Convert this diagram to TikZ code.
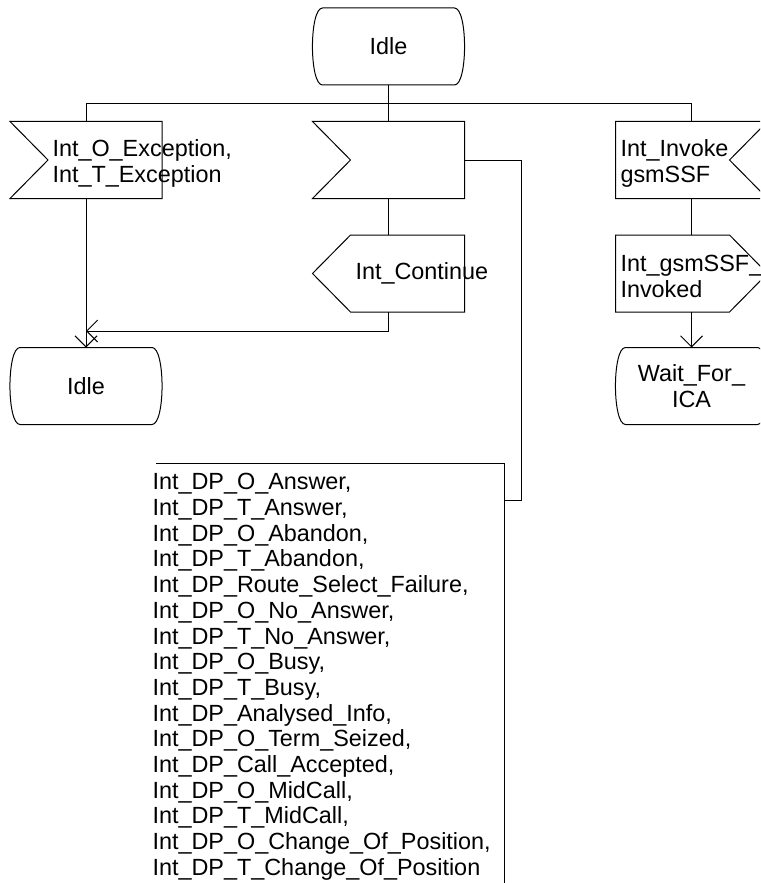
\documentclass[tikz,border=0pt]{standalone}
\usepackage{fontspec}
\setmainfont{Liberation Sans}
\usetikzlibrary{arrows.meta,positioning}

\begin{document}
\begin{tikzpicture}[
    x=0.5pt, y=-0.5pt,
    line width=0.5pt,
    >={Straight Barb[length=5.5pt,width=11pt]},
    font=\fontsize{11.7}{12.85}\selectfont,
    sdl/.style={rectangle, minimum width=75.5pt, minimum height=38pt, inner sep=0pt},
    statebox/.style={sdl, align=center, append after command={\pgfextra{
        \draw ([xshift=5pt]\tikzlastnode.north west) -- ([xshift=-5pt]\tikzlastnode.north east)
          .. controls ([xshift=1.7pt]\tikzlastnode.north east) and ([xshift=1.7pt]\tikzlastnode.south east) .. ([xshift=-5pt]\tikzlastnode.south east)
          -- ([xshift=5pt]\tikzlastnode.south west)
          .. controls ([xshift=-1.7pt]\tikzlastnode.south west) and ([xshift=-1.7pt]\tikzlastnode.north west) .. cycle;}}},
    inleft/.style={sdl, append after command={\pgfextra{
        \draw (\tikzlastnode.north west) -- (\tikzlastnode.north east) -- (\tikzlastnode.south east)
          -- (\tikzlastnode.south west) -- ([xshift=19pt]\tikzlastnode.west) -- cycle;}}},
    inright/.style={sdl, append after command={\pgfextra{
        \draw (\tikzlastnode.north west) -- (\tikzlastnode.north east) -- ([xshift=-19pt]\tikzlastnode.east)
          -- (\tikzlastnode.south east) -- (\tikzlastnode.south west) -- cycle;}}},
    outleft/.style={sdl, append after command={\pgfextra{
        \draw ([xshift=19pt]\tikzlastnode.north west) -- (\tikzlastnode.north east) -- (\tikzlastnode.south east)
          -- ([xshift=19pt]\tikzlastnode.south west) -- (\tikzlastnode.west) -- cycle;}}},
    outright/.style={sdl, append after command={\pgfextra{
        \draw (\tikzlastnode.north west) -- ([xshift=-19pt]\tikzlastnode.north east) -- (\tikzlastnode.east)
          -- ([xshift=-19pt]\tikzlastnode.south east) -- (\tikzlastnode.south west) -- cycle;}}},
    txt/.style={anchor=west, align=left, inner sep=0pt}
  ]
  \useasboundingbox (0,0) rectangle (760,883);
  \clip (0,0) rectangle (760,883);

  % states
  \node[statebox] (idle1) at (388.5,46.5) {Idle};
  \node[statebox] (idle2) at (86,386) {Idle};
  \node[statebox] (wait) at (691.5,386) {Wait\_For\_\\ICA};

  % inputs and outputs
  \node[inleft] (exc) at (86,160) {};
  \node[inleft] (sig) at (388.5,160) {};
  \node[inright] (inv) at (691.5,160) {};
  \node[outleft] (cont) at (388.5,273.5) {};
  \node[outright] (gsm) at (691.5,273.5) {};

  \node[txt] (exctxt) at (52,163.5) {Int\_O\_Exception,\\Int\_T\_Exception};
  \node[txt] (conttxt) at (355,273.5) {Int\_Continue};
  \node[txt] (invtxt) at (620,163.5) {Int\_Invoke\\gsmSSF};
  \node[txt] (gsmtxt) at (620,276.5) {Int\_gsmSSF\_\\Invoked};

  % signal list
  \node[anchor=north west, inner xsep=0pt, inner ysep=5pt, text width=175.5pt, align=left] (dps) at (152,463) {%
    Int\_DP\_O\_Answer,\\
    Int\_DP\_T\_Answer,\\
    Int\_DP\_O\_Abandon,\\
    Int\_DP\_T\_Abandon,\\
    Int\_DP\_Route\_Select\_Failure,\\
    Int\_DP\_O\_No\_Answer,\\
    Int\_DP\_T\_No\_Answer,\\
    Int\_DP\_O\_Busy,\\
    Int\_DP\_T\_Busy,\\
    Int\_DP\_Analysed\_Info,\\
    Int\_DP\_O\_Term\_Seized,\\
    Int\_DP\_Call\_Accepted,\\
    Int\_DP\_O\_MidCall,\\
    Int\_DP\_T\_MidCall,\\
    Int\_DP\_O\_Change\_Of\_Position,\\
    Int\_DP\_T\_Change\_Of\_Position};
  \draw ([xshift=2pt]dps.north west) -- (dps.north east) -- (dps.south east);

  % connectors
  \coordinate (bus) at (388.5,103.5);
  \coordinate[below=9.5pt of cont.south] (join);
  \draw (idle1.south) -- (bus);
  \draw (exc.north) |- (bus) -| (inv.north);
  \draw (bus) -- (sig.north);
  \draw[->] (exc.south) -- (idle2.north);
  \draw (sig.south) -- (cont.north);
  \draw[->] (cont.south) -- (join) -- (join -| exc.south);
  \draw (sig.east) -- ++(57,0) |- ([yshift=-18.5pt]dps.north east);
  \draw (inv.south) -- (gsm.north);
  \draw[->] (gsm.south) -- (wait.north);
\end{tikzpicture}
\end{document}
